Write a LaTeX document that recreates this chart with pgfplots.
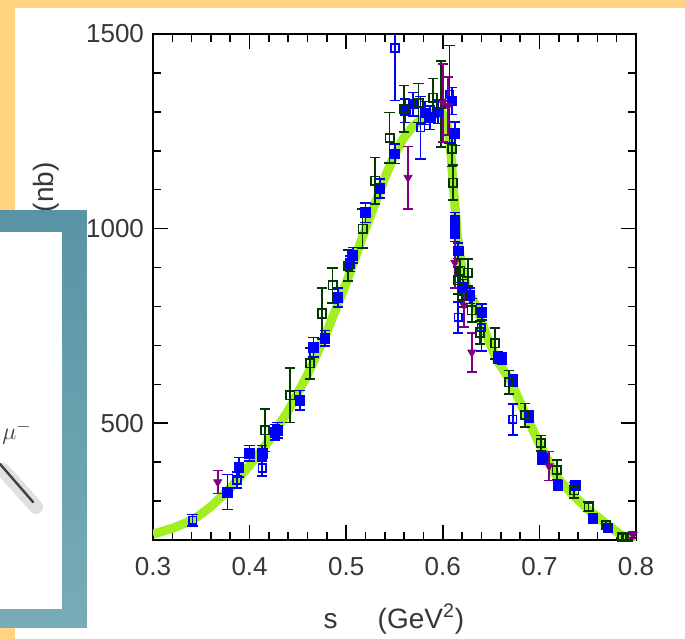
\documentclass[border=0pt]{standalone}
\usepackage{pgfplots}
\usepackage{pgfplotstable}
\pgfplotsset{compat=1.18}
\usepackage{fontspec}
\setmainfont{Liberation Sans}
\definecolor{bgorange}{RGB}{255,211,127}
\definecolor{bandc}{RGB}{162,238,32}
\definecolor{dgreen}{RGB}{0,58,0}
\definecolor{purp}{RGB}{128,0,128}
\definecolor{tealtop}{RGB}{88,148,165}
\definecolor{tealbot}{RGB}{120,172,182}
\definecolor{txt}{RGB}{55,55,55}

\pgfplotstableread{
x y
0.300 215
0.320 230
0.340 250
0.350 267
0.360 286
0.380 333
0.400 392
0.420 455
0.440 532
0.460 625
0.480 735
0.500 860
0.520 1000
0.540 1130
0.550 1190
0.560 1235
0.570 1265
0.580 1285
0.590 1297
0.600 1296
0.605 1262
0.608 1205
0.611 1105
0.615 985
0.620 892
0.625 850
0.635 797
0.645 728
0.656 662
0.670 610
0.685 526
0.700 447
0.718 362
0.735 315
0.751 277
0.770 240
0.785 212
0.800 200
}\bandtab

\pgfplotstableread{
x y e
0.377 323 45
0.389 387 25
0.400 423 20
0.413 423 20
0.426 477 20
0.429 482 20
0.452 559 25
0.466 695 25
0.478 718 20
0.4915 823 25
0.504 910 20
0.507 931 20
0.520 1041 25
0.535 1103 25
0.5505 1192 25
0.561 1303 30
0.569 1320 30
0.5815 1297 30
0.587 1285 30
0.595 1300 30
0.6095 1328 35
0.6125 1244 30
0.6125 1021 20
0.6125 987 20
0.616 943 20
0.621 849 20
0.628 828 20
0.6405 785 20
0.657 669 15
0.661 667 15
0.6725 610 15
0.689 518 15
0.703 410 15
0.719 341 12
0.737 341 12
0.7555 256 10
0.771 231 10
}\bluefilled

\pgfplotstableread{
x y e
0.341 251 15
0.387 354 20
0.413 385 20
0.5505 1464 135
0.577 1259 80
0.607 1345 125
0.616 772 40
0.640 746 60
0.6725 510 40
}\blueopen

\pgfplotstableread{
x y e
0.416 482 55
0.442 572 70
0.4625 654 40
0.475 782 65
0.486 854 45
0.502 905 40
0.517 1000 50
0.530 1123 60
0.545 1233 65
0.560 1308 60
0.575 1323 50
0.590 1336 50
0.598 1320 110
0.6095 1205 45
0.6105 1118 45
0.616 867 35
0.618 892 30
0.620 828 30
0.626 887 35
0.630 790 30
0.6385 733 30
0.654 705 40
0.6685 605 30
0.685 521 30
0.7015 449 20
0.718 380 25
0.736 328 20
0.751 285 12
0.769 238 10
0.7855 208 8
0.7915 208 8
}\dgreenopen

\pgfplotstableread{
x y e
0.367 349 30
0.564 1131 80
0.600 1323 100
0.6055 1315 75
0.6125 913 65
0.622 803 55
0.630 682 50
0.710 390 37
0.797 213 8
}\purptab

\begin{document}
\begin{tikzpicture}
\useasboundingbox (0,0) rectangle (342.5bp,-319.5bp);
\begin{scope}[x=0.5bp,y=-0.5bp]
\fill[bgorange] (0,0) rectangle (685,639);
\fill[white] (15,8) rectangle (685,639);
\node[rotate=90, anchor=east, inner sep=0pt, text=txt, font=\fontsize{14bp}{14bp}\selectfont] at (46,162) {$\sigma$\hspace{20bp}(nb)};
\node[anchor=center, inner sep=0pt, text=txt, font=\fontsize{14bp}{14bp}\selectfont] at (394,619) {s\hspace{20bp}(GeV\textsuperscript{2})};
\end{scope}

\begin{axis}[
  at={(76.5bp,-270bp)}, anchor=south west,
  scale only axis, width=241.5bp, height=253bp,
  xmin=0.3, xmax=0.8, ymin=200, ymax=1500,
  xtick={0.3,0.4,0.5,0.6,0.7,0.8},
  xticklabels={0.3,0.4,0.5,0.6,0.7,0.8},
  ytick={500,1000,1500},
  yticklabels={500,1000,1500},
  minor xtick={0.32,0.34,0.36,0.38,0.42,0.44,0.46,0.48,0.52,0.54,0.56,0.58,0.62,0.64,0.66,0.68,0.72,0.74,0.76,0.78},
  minor ytick={300,400,600,700,800,900,1100,1200,1300,1400},
  tick align=inside,
  xtick pos=both, ytick pos=both,
  major tick length=7.5bp, minor tick length=4bp,
  axis line style={line width=1bp, black},
  every tick/.style={line width=0.8bp, black},
  tick label style={font=\fontsize{13bp}{13bp}\selectfont, text=txt},
  xticklabel style={yshift=-5bp},
  yticklabel style={xshift=-1bp},
  clip=true,
  axis background/.style={fill=white},
]
\addplot[bandc, line width=4.5bp, line join=round] table[x=x,y=y] {\bandtab};

\addplot[only marks, mark=square*, mark size=2.4bp, mark options={draw=blue, fill=blue},
  error bars/.cd, y dir=both, y explicit,
  error bar style={line width=0.8bp, blue},
  error mark options={rotate=90, line width=0.8bp, mark size=2.6bp, blue}]
  table[x=x,y=y,y error=e] {\bluefilled};

\addplot[only marks, mark=square, mark size=2.1bp, mark options={draw=dgreen, line width=0.85bp},
  error bars/.cd, y dir=both, y explicit,
  error bar style={line width=0.8bp, dgreen},
  error mark options={rotate=90, line width=0.8bp, mark size=2.6bp, dgreen}]
  table[x=x,y=y,y error=e] {\dgreenopen};

\addplot[only marks, mark=square, mark size=1.9bp, mark options={draw=blue, line width=0.85bp},
  error bars/.cd, y dir=both, y explicit,
  error bar style={line width=0.8bp, blue},
  error mark options={rotate=90, line width=0.8bp, mark size=2.6bp, blue}]
  table[x=x,y=y,y error=e] {\blueopen};

\addplot[only marks, mark=triangle*, mark size=2.3bp, mark options={draw=purp, fill=purp, rotate=180},
  error bars/.cd, y dir=both, y explicit,
  error bar style={line width=0.8bp, purp},
  error mark options={rotate=90, line width=0.8bp, mark size=2.6bp, purp}]
  table[x=x,y=y,y error=e] {\purptab};
\end{axis}

\begin{scope}[x=0.5bp,y=-0.5bp]
\shade[top color=tealtop, bottom color=tealbot] (0,211) rectangle (87,628);
\fill[white] (0,232) rectangle (62,609);
\begin{scope}
\clip (0,232) rectangle (62,609);
\draw[black!12, line width=7bp, line cap=round] (3,470) -- (36,507);
\draw[black!75, line width=1.2bp, line cap=round] (0,464) -- (33,502);
\node[anchor=base west, inner sep=0pt, text=black!75, font=\fontsize{13bp}{13bp}\selectfont] at (2,440) {$\mu^{-}$};
\end{scope}
\end{scope}
\end{tikzpicture}
\end{document}
